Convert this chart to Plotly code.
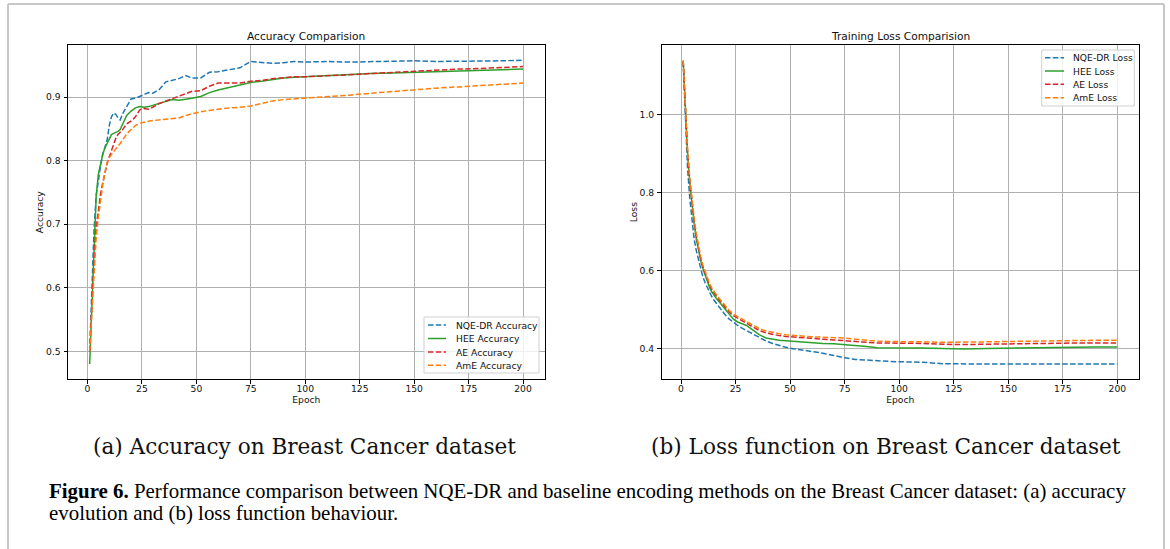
import plotly.graph_objects as go

# ---------------- data ----------------
epochs = [1, 2, 3, 4, 5, 6, 7, 8, 9, 10, 11, 12, 13, 14, 15, 16, 17, 18,
          20, 22, 24, 26, 28, 30, 33, 36, 39, 42, 45, 48, 52, 56, 60, 65,
          70, 75, 80, 85, 90, 95, 100, 110, 120, 130, 140, 150, 160, 170,
          180, 190, 200]

acc_nqe = [0.500, 0.590, 0.690, 0.745, 0.772, 0.792, 0.810, 0.822, 0.832, 0.855,
           0.869, 0.875, 0.873, 0.867, 0.864, 0.873, 0.879, 0.886,
           0.897, 0.898, 0.901, 0.905, 0.907, 0.906, 0.912, 0.924, 0.927, 0.929,
           0.934, 0.930, 0.930, 0.939, 0.940, 0.943, 0.946, 0.956, 0.954, 0.953,
           0.954, 0.956, 0.955, 0.956, 0.955, 0.956, 0.957, 0.957, 0.956, 0.956,
           0.957, 0.957, 0.958]
acc_hee = [0.480, 0.570, 0.680, 0.745, 0.779, 0.797, 0.810, 0.820, 0.828, 0.836,
           0.841, 0.843, 0.844, 0.846, 0.849, 0.857, 0.865, 0.871,
           0.878, 0.883, 0.885, 0.884, 0.885, 0.887, 0.891, 0.894, 0.896, 0.895,
           0.896, 0.898, 0.901, 0.907, 0.911, 0.915, 0.919, 0.923, 0.925, 0.928,
           0.930, 0.931, 0.932, 0.934, 0.936, 0.937, 0.938, 0.939, 0.940, 0.941,
           0.942, 0.943, 0.944]
acc_ae = [0.500, 0.575, 0.640, 0.695, 0.726, 0.748, 0.765, 0.781, 0.795, 0.806,
          0.816, 0.826, 0.835, 0.841, 0.844, 0.848, 0.853, 0.858,
          0.862, 0.869, 0.880, 0.882, 0.881, 0.884, 0.890, 0.894, 0.897, 0.902,
          0.905, 0.909, 0.910, 0.917, 0.922, 0.922, 0.922, 0.925, 0.926, 0.929,
          0.931, 0.932, 0.932, 0.933, 0.935, 0.937, 0.939, 0.941, 0.943, 0.944,
          0.945, 0.946, 0.948]
acc_ame = [0.500, 0.560, 0.630, 0.680, 0.712, 0.740, 0.762, 0.782, 0.797, 0.805,
           0.810, 0.815, 0.819, 0.823, 0.827, 0.832, 0.837, 0.842,
           0.849, 0.855, 0.859, 0.861, 0.862, 0.863, 0.864, 0.865, 0.866, 0.867,
           0.871, 0.874, 0.877, 0.879, 0.881, 0.883, 0.884, 0.886, 0.890, 0.894,
           0.896, 0.897, 0.898, 0.901, 0.903, 0.906, 0.909, 0.911, 0.914, 0.916,
           0.918, 0.920, 0.922]

loss_nqe = [1.137, 0.990, 0.862, 0.787, 0.727, 0.683, 0.652, 0.627, 0.604, 0.585,
            0.570, 0.557, 0.545, 0.535, 0.526, 0.518, 0.510, 0.503,
            0.489, 0.477, 0.468, 0.460, 0.453, 0.447, 0.437, 0.428, 0.420, 0.414,
            0.409, 0.404, 0.400, 0.397, 0.394, 0.389, 0.383, 0.377, 0.373, 0.371,
            0.369, 0.368, 0.367, 0.366, 0.362, 0.361, 0.361, 0.361, 0.361, 0.362,
            0.362, 0.362, 0.361]
loss_hee = [1.137, 1.000, 0.900, 0.826, 0.768, 0.722, 0.682, 0.652, 0.627, 0.606,
            0.589, 0.573, 0.559, 0.547, 0.538, 0.531, 0.524, 0.517,
            0.502, 0.488, 0.476, 0.469, 0.465, 0.460, 0.448, 0.436, 0.428, 0.425,
            0.422, 0.421, 0.419, 0.417, 0.415, 0.414, 0.413, 0.411, 0.409, 0.406,
            0.403, 0.403, 0.403, 0.402, 0.401, 0.400, 0.401, 0.402, 0.402, 0.403,
            0.404, 0.405, 0.405]
loss_ae = [1.137, 1.000, 0.905, 0.832, 0.775, 0.730, 0.690, 0.658, 0.632, 0.611,
           0.594, 0.578, 0.564, 0.553, 0.544, 0.536, 0.529, 0.522,
           0.508, 0.495, 0.485, 0.478, 0.472, 0.466, 0.456, 0.447, 0.441, 0.437,
           0.434, 0.432, 0.430, 0.428, 0.426, 0.425, 0.423, 0.421, 0.419, 0.417,
           0.415, 0.415, 0.415, 0.414, 0.412, 0.411, 0.412, 0.413, 0.413, 0.414,
           0.415, 0.415, 0.415]
loss_ame = [1.140, 1.005, 0.910, 0.838, 0.780, 0.735, 0.695, 0.663, 0.637, 0.615,
            0.598, 0.582, 0.568, 0.557, 0.548, 0.540, 0.533, 0.526,
            0.512, 0.499, 0.489, 0.482, 0.476, 0.470, 0.461, 0.452, 0.446, 0.442,
            0.439, 0.436, 0.434, 0.432, 0.431, 0.430, 0.429, 0.428, 0.425, 0.422,
            0.420, 0.419, 0.419, 0.418, 0.417, 0.417, 0.418, 0.419, 0.420, 0.421,
            0.421, 0.422, 0.422]

acc_names = ["NQE-DR Accuracy", "HEE Accuracy", "AE Accuracy", "AmE Accuracy"]
loss_names = ["NQE-DR Loss", "HEE Loss", "AE Loss", "AmE Loss"]
x_ticks = [0, 25, 50, 75, 100, 125, 150, 175, 200]
acc_ticks = [0.5, 0.6, 0.7, 0.8, 0.9]
loss_ticks = [0.4, 0.6, 0.8, 1.0]

titles = ["Accuracy Comparision", "Training Loss Comparision"]
subcaptions = ["(a) Accuracy on Breast Cancer dataset",
               "(b) Loss function on Breast Cancer dataset"]
caption_line1 = ("<b>Figure 6.</b> Performance comparison between NQE-DR and baseline "
                 "encoding methods on the Breast Cancer dataset: (a) accuracy")
caption_line2 = "evolution and (b) loss function behaviour."

# ---------------- styling ----------------
W, H = 1170, 549
colors = ["#1f77b4", "#2ca02c", "#d62728", "#ff7f0e"]
dashes = ["5.5px,2.3px", "solid", "5.5px,2.3px", "5.5px,2.3px"]
SANS = "DejaVu Sans"
SERIF = "Liberation Serif"
SUBSERIF = "DejaVu Serif"


def px(x):
    return x / W


def py(y):
    return 1 - y / H


def padded(vals_lists, frac=0.05):
    lo = min(min(v) for v in vals_lists)
    hi = max(max(v) for v in vals_lists)
    d = (hi - lo) * frac
    return [lo - d, hi + d]


xr = padded([epochs])

fig = go.Figure()
acc_data = [acc_nqe, acc_hee, acc_ae, acc_ame]
loss_data = [loss_nqe, loss_hee, loss_ae, loss_ame]
for i in range(4):
    fig.add_trace(go.Scatter(x=epochs, y=acc_data[i], name=acc_names[i], mode="lines",
                             line=dict(color=colors[i], width=1.5, dash=dashes[i]),
                             xaxis="x", yaxis="y", showlegend=False))
for i in range(4):
    fig.add_trace(go.Scatter(x=epochs, y=loss_data[i], name=loss_names[i], mode="lines",
                             line=dict(color=colors[i], width=1.5, dash=dashes[i]),
                             xaxis="x2", yaxis="y2", showlegend=False))

# axes boxes in pixels
L_BOX = (68, 544.7)
R_BOX = (661.5, 1139)
TOP, BOT = 45, 379.3

axis_common = dict(showline=True, mirror=True, linecolor="black", linewidth=1,
                   ticks="outside", ticklen=3.5, tickwidth=0.8, tickcolor="black",
                   showgrid=True, gridcolor="#b0b0b0", gridwidth=0.8, zeroline=False,
                   tickfont=dict(family=SANS, size=9.2, color="#111111"),
                   automargin=False)
xfont = dict(family=SANS, size=9.2, color="#111111")

fig.update_layout(
    width=W, height=H, margin=dict(l=0, r=0, t=0, b=0), autosize=False,
    paper_bgcolor="white", plot_bgcolor="white",
    xaxis=dict(domain=[px(L_BOX[0]), px(L_BOX[1])], range=xr, anchor="y",
               tickvals=x_ticks, ticklabelstandoff=-3,
               title=dict(text="Epoch", font=xfont, standoff=1),
               **axis_common),
    yaxis=dict(domain=[py(BOT), py(TOP)], range=padded(acc_data), anchor="x",
               tickvals=acc_ticks, tickformat=".1f", ticklabelstandoff=1,
               title=dict(text="Accuracy", font=xfont, standoff=0),
               **axis_common),
    xaxis2=dict(domain=[px(R_BOX[0]), px(R_BOX[1])], range=xr, anchor="y2",
                tickvals=x_ticks, ticklabelstandoff=-3,
                title=dict(text="Epoch", font=xfont, standoff=1),
                **axis_common),
    yaxis2=dict(domain=[py(BOT), py(TOP)], range=padded(loss_data), anchor="x2",
                tickvals=loss_ticks, tickformat=".1f", ticklabelstandoff=1,
                title=dict(text="Loss", font=xfont, standoff=0),
                **axis_common),
)

annotations = []
shapes = []

# chart titles
for (x0, x1), t in zip([L_BOX, R_BOX], titles):
    annotations.append(dict(x=px((x0 + x1) / 2), y=py(35.5), xref="paper", yref="paper",
                            text=t, showarrow=False, xanchor="center", yanchor="middle",
                            font=dict(family=SANS, size=10.6, color="#111111")))

# legends (drawn manually to match matplotlib legend spacing)
legend_specs = [
    dict(box=(424, 317, 539, 373), sample=(428, 446), text_x=454,
         rows=[325, 338.5, 352, 365.3], names=acc_names),
    dict(box=(1041.7, 50, 1134.3, 106), sample=(1045, 1064), text_x=1071,
         rows=[57.7, 71, 84.3, 97.7], names=loss_names),
]
for spec in legend_specs:
    bx0, by0, bx1, by1 = spec["box"]
    shapes.append(dict(type="rect", xref="paper", yref="paper", layer="above",
                       x0=px(bx0), x1=px(bx1), y0=py(by1), y1=py(by0),
                       line=dict(color="#d0d0d0", width=1),
                       fillcolor="rgba(255,255,255,0.8)"))
    for i, (ry, nm) in enumerate(zip(spec["rows"], spec["names"])):
        shapes.append(dict(type="line", xref="paper", yref="paper", layer="above",
                           x0=px(spec["sample"][0]), x1=px(spec["sample"][1]),
                           y0=py(ry), y1=py(ry),
                           line=dict(color=colors[i], width=1.5, dash=dashes[i])))
        annotations.append(dict(x=px(spec["text_x"]), y=py(ry), xref="paper", yref="paper",
                                text=nm, showarrow=False, xanchor="left", yanchor="middle",
                                font=dict(family=SANS, size=9.2, color="#111111")))

# sub-captions
for cx, t in zip([304, 886], subcaptions):
    annotations.append(dict(x=px(cx), y=py(446), xref="paper", yref="paper", text=t,
                            showarrow=False, xanchor="center", yanchor="middle",
                            font=dict(family=SUBSERIF, size=21.6, color="#111111")))

# figure caption
annotations.append(dict(x=px(47), y=py(491), xref="paper", yref="paper", text=caption_line1,
                        showarrow=False, xanchor="left", yanchor="middle", align="left",
                        font=dict(family=SERIF, size=20.9, color="black")))
annotations.append(dict(x=px(47), y=py(513), xref="paper", yref="paper", text=caption_line2,
                        showarrow=False, xanchor="left", yanchor="middle", align="left",
                        font=dict(family=SERIF, size=20.9, color="black")))

# page border (left, top, right)
border = dict(color="#c8c8c8", width=2)
shapes.append(dict(type="line", xref="paper", yref="paper", x0=px(8), x1=px(8),
                   y0=0, y1=py(4), line=border))
shapes.append(dict(type="line", xref="paper", yref="paper", x0=px(8), x1=px(1164),
                   y0=py(4), y1=py(4), line=border))
shapes.append(dict(type="line", xref="paper", yref="paper", x0=px(1164), x1=px(1164),
                   y0=0, y1=py(4), line=border))

fig.update_layout(annotations=annotations, shapes=shapes)
fig.write_html("out.html")
